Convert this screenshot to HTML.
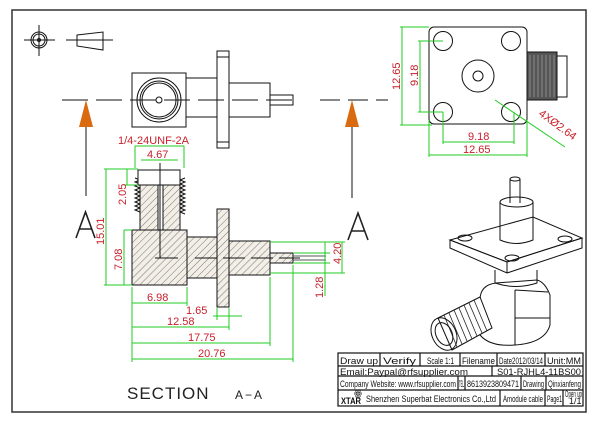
<!DOCTYPE html>
<html><head><meta charset="utf-8"><style>
html,body{margin:0;padding:0;background:#fff;width:600px;height:423px;overflow:hidden}
svg{display:block}
.k{stroke:#111;fill:none;stroke-width:1}
.g{stroke:#22cc22;fill:none;stroke-width:1}
.r{fill:#c8202a;font-family:"Liberation Sans Narrow","Liberation Sans",sans-serif;font-size:11px}
.t{fill:#111;font-family:"Liberation Sans Narrow","Liberation Sans",sans-serif;font-size:9px}
.h{fill:url(#hat);stroke:#111;stroke-width:1}
</style></head><body>
<svg width="600" height="423" viewBox="0 0 600 423" xmlns="http://www.w3.org/2000/svg">
<defs>
<pattern id="hat" patternUnits="userSpaceOnUse" width="5" height="5" patternTransform="rotate(45)">
<rect width="5" height="5" fill="#f3efe6"/><line x1="0" y1="0" x2="0" y2="5" stroke="#777" stroke-width="1"/></pattern>
</defs>
<rect x="0" y="0" width="600" height="423" fill="#fff"/>
<rect x="12" y="10" width="574" height="402" fill="none" stroke="#333" stroke-width="1.5"/>

<!-- symbols -->
<g class="k">
<circle cx="39" cy="40" r="8"/><circle cx="39" cy="40" r="6"/><circle cx="39" cy="40" r="1.5"/>
<line x1="24" y1="40" x2="55" y2="40"/><line x1="39" y1="25" x2="39" y2="56"/>
<path d="M77 35 L103 32 L103 50 L77 46 Z"/><line x1="66" y1="40" x2="113" y2="40"/>
</g>

<!-- top side view -->
<g class="k">
<rect x="132" y="73" width="54" height="54"/>
<circle cx="159" cy="100" r="22"/><circle cx="159" cy="100" r="19"/><circle cx="159" cy="100" r="17"/><circle cx="159" cy="100" r="3"/>
<rect x="186" y="78" width="31" height="39"/>
<rect x="217" y="51" width="12" height="97"/><line x1="217" y1="57" x2="229" y2="57"/><line x1="217" y1="142" x2="229" y2="142"/>
<rect x="229" y="83" width="41" height="34"/>
<rect x="270" y="95" width="23" height="10"/>
<line x1="62" y1="100" x2="300" y2="100" stroke-dasharray="26,8"/>
<line x1="320" y1="100" x2="388" y2="100" stroke-dasharray="20,8"/>
<line x1="86" y1="127" x2="86" y2="196"/>
<line x1="352" y1="127" x2="352" y2="198"/>
</g>
<polygon points="86,100 79,127 93,127" fill="#d96a10"/>
<polygon points="352,100 345,127 359,127" fill="#d96a10"/>
<path d="M76 238 L85.5 212 L95 238 M79.5 229 L91.5 229" stroke="#222" stroke-width="1.6" fill="none"/>
<path d="M348 240 L358 213 L368 240 M351.5 231 L364.5 231" stroke="#222" stroke-width="1.6" fill="none"/>

<!-- section view -->
<g>
<path class="k" d="M135 178 l5 2 l-5 2 l5 2 l-5 2 l5 2 l-5 2 l5 2 l-5 2 l5 2 l-5 2 l5 2 l-5 2 l5 2 l-5 2 l5 2 l-5 2 l5 2"/>
<path class="k" d="M185 178 l-5 2 l5 2 l-5 2 l5 2 l-5 2 l5 2 l-5 2 l5 2 l-5 2 l5 2 l-5 2 l5 2 l-5 2 l5 2 l-5 2 l5 2 l-5 2 l5 2"/>
<rect class="h" x="140" y="185" width="40" height="45"/>
<rect x="158" y="185" width="5" height="45" fill="#fff" stroke="#111"/>
<rect x="138" y="170" width="42" height="15" fill="#fff" stroke="#111"/>
<rect class="h" x="132" y="230" width="55" height="55"/>
<rect class="h" x="187" y="237" width="30" height="41"/>
<rect class="h" x="217" y="209" width="12" height="98"/>
<rect class="h" x="229" y="241" width="41" height="34"/>
<rect class="h" x="270" y="253" width="23" height="10"/>
<g class="k"><line x1="160" y1="163" x2="160" y2="258"/><line x1="155" y1="258" x2="178" y2="258"/>
<line x1="195" y1="258" x2="300" y2="258" stroke-dasharray="22,6"/></g>
<line x1="293" y1="256" x2="326" y2="256" stroke="#555"/><line x1="293" y1="260" x2="326" y2="260" stroke="#555"/>
</g>

<!-- section dims -->
<g class="g">
<line x1="135" y1="168" x2="135" y2="146"/><line x1="184" y1="168" x2="184" y2="146"/><line x1="135" y1="146" x2="184" y2="146"/>
<line x1="141" y1="160" x2="178" y2="160"/>
<line x1="104" y1="169" x2="138" y2="169"/><line x1="104" y1="285" x2="132" y2="285"/>
<line x1="106" y1="169" x2="106" y2="285"/>
<line x1="127" y1="169" x2="127" y2="185"/><line x1="124" y1="185" x2="138" y2="185"/>
<line x1="124" y1="230" x2="132" y2="230"/><line x1="124" y1="230" x2="124" y2="285"/>
<line x1="132" y1="287" x2="132" y2="362"/><line x1="187" y1="287" x2="187" y2="306"/>
<line x1="132" y1="303" x2="187" y2="303"/>
<line x1="217" y1="308" x2="217" y2="320"/><line x1="229" y1="308" x2="229" y2="330"/>
<line x1="213" y1="316" x2="242" y2="316"/>
<line x1="132" y1="327" x2="229" y2="327"/>
<line x1="270" y1="277" x2="270" y2="346"/><line x1="132" y1="343" x2="270" y2="343"/>
<line x1="293" y1="265" x2="293" y2="362"/><line x1="132" y1="359" x2="293" y2="359"/>
<line x1="270" y1="242" x2="345" y2="242"/><line x1="270" y1="273" x2="345" y2="273"/>
<line x1="325" y1="242" x2="325" y2="296"/><line x1="342" y1="242" x2="342" y2="273"/>
<line x1="293" y1="253" x2="330" y2="253"/><line x1="293" y1="263" x2="330" y2="263"/>
</g>
<text class="r" x="118" y="144">1/4-24UNF-2A</text>
<text class="r" x="147" y="158">4.67</text>
<text class="r" transform="translate(126,205) rotate(-90)">2.05</text>
<text class="r" transform="translate(104,245) rotate(-90)">15.01</text>
<text class="r" transform="translate(122,270) rotate(-90)">7.08</text>
<text class="r" transform="translate(341,264) rotate(-90)">4.20</text>
<text class="r" transform="translate(323,298) rotate(-90)">1.28</text>
<text class="r" x="147" y="301">6.98</text>
<text class="r" x="186" y="314">1.65</text>
<text class="r" x="167" y="325">12.58</text>
<text class="r" x="188" y="341">17.75</text>
<text class="r" x="198" y="357">20.76</text>
<text x="127" y="399" font-family="Liberation Sans,sans-serif" font-size="17" fill="#222" letter-spacing="1">SECTION</text>
<text x="235" y="399" font-family="Liberation Sans,sans-serif" font-size="12" fill="#222" letter-spacing="2">A−A</text>

<!-- right top view -->
<g class="k">
<rect x="429" y="27" width="98" height="97" rx="5"/>
<circle cx="443" cy="41" r="9.5"/><circle cx="511" cy="41" r="9.5"/><circle cx="443" cy="112" r="9.5"/><circle cx="511" cy="112" r="9.5"/>
<circle cx="478" cy="76" r="16"/><circle cx="478" cy="76" r="5"/>
<rect x="527" y="52" width="30" height="48" fill="#555" stroke="#111"/>
<rect x="557" y="56" width="10" height="41"/>
</g>
<g stroke="#999" stroke-width="0.8">
<line x1="530" y1="55" x2="530" y2="97"/><line x1="534" y1="55" x2="534" y2="97"/><line x1="538" y1="55" x2="538" y2="97"/><line x1="542" y1="55" x2="542" y2="97"/><line x1="546" y1="55" x2="546" y2="97"/><line x1="550" y1="55" x2="550" y2="97"/><line x1="554" y1="55" x2="554" y2="97"/>
</g>
<g class="g">
<line x1="400" y1="27" x2="429" y2="27"/><line x1="400" y1="125" x2="432" y2="125"/><line x1="402" y1="27" x2="402" y2="125"/>
<line x1="418" y1="41" x2="443" y2="41"/><line x1="418" y1="112" x2="443" y2="112"/><line x1="420" y1="41" x2="420" y2="112"/>
<line x1="443" y1="112" x2="443" y2="144"/><line x1="514" y1="112" x2="514" y2="144"/><line x1="443" y1="142" x2="514" y2="142"/>
<line x1="429" y1="120" x2="429" y2="157"/><line x1="527" y1="120" x2="527" y2="157"/><line x1="429" y1="155" x2="527" y2="155"/>
<line x1="495" y1="100" x2="565" y2="147"/>
</g>
<text class="r" transform="translate(400,90) rotate(-90)">12.65</text>
<text class="r" transform="translate(418,86) rotate(-90)">9.18</text>
<text class="r" x="468" y="140">9.18</text>
<text class="r" x="463" y="153">12.65</text>
<text class="r" transform="translate(538,115) rotate(36)">4XØ2.64</text>

<!-- 3D view -->
<g class="k" fill="#fff" stroke-width="1.1">
<!-- elbow body -->
<path d="M496 283 Q480 285 480 300 L480 335 Q490 347 515 345 Q545 343 550 325 L550 295 Q545 282 537 280 Z"/>
<path d="M515 290 L515 345 M515 290 L548 292 M515 318 L550 318"/>
<!-- threaded female -->
<path d="M438 318 L480 297 L492 328 L452 350 Z" fill="#fff"/>
<g stroke="#222" stroke-width="0.8">
<line x1="444" y1="315" x2="457" y2="347"/><line x1="449" y1="313" x2="462" y2="344"/><line x1="454" y1="310" x2="467" y2="341"/><line x1="459" y1="308" x2="472" y2="339"/><line x1="464" y1="305" x2="477" y2="336"/><line x1="469" y1="303" x2="482" y2="333"/><line x1="474" y1="300" x2="487" y2="331"/>
</g>
<ellipse cx="444" cy="334" rx="12" ry="17" transform="rotate(-25 444 334)"/>
<ellipse cx="444" cy="334" rx="8" ry="12" transform="rotate(-25 444 334)"/>
<!-- neck -->
<path d="M495 270 L495 283 Q516 290 537 283 L537 270"/>
<!-- flange plate -->
<path d="M450 240 L450 248 L507 273 L582 248 L582 238 L507 262 Z"/>
<path d="M450 240 L533 217 L582 238 L507 262 Z"/>
<line x1="507" y1="262" x2="507" y2="273"/>
<ellipse cx="465" cy="238" rx="7" ry="3"/><ellipse cx="565" cy="239" rx="7" ry="3"/><ellipse cx="512" cy="258" rx="7" ry="3"/>
<!-- upper cylinder -->
<path d="M500 202 L500 240 Q516 247 533 240 L533 202"/><ellipse cx="516.5" cy="202" rx="16.5" ry="5"/>
<path d="M510 179 L510 203 M520 179 L520 203"/><ellipse cx="515" cy="179" rx="5" ry="2"/>
</g>

<!-- title block -->
<g stroke="#111" stroke-width="1.2" fill="none">
<rect x="338" y="353" width="245" height="53"/>
<line x1="338" y1="366" x2="583" y2="366"/><line x1="338" y1="376" x2="583" y2="376"/><line x1="338" y1="390" x2="583" y2="390"/>
<line x1="380" y1="353" x2="380" y2="366"/><line x1="420" y1="353" x2="420" y2="366"/><line x1="460" y1="353" x2="460" y2="366"/><line x1="497" y1="353" x2="497" y2="366"/><line x1="545" y1="353" x2="545" y2="366"/>
<line x1="492" y1="366" x2="492" y2="376"/>
<line x1="458" y1="376" x2="458" y2="390"/><line x1="465" y1="376" x2="465" y2="390"/><line x1="521" y1="376" x2="521" y2="390"/><line x1="546" y1="376" x2="546" y2="390"/>
<line x1="500" y1="390" x2="500" y2="406"/><line x1="545" y1="390" x2="545" y2="406"/><line x1="563" y1="390" x2="563" y2="406"/>
</g>
<text class="t" x="340" y="364" font-size="10" textLength="38" lengthAdjust="spacingAndGlyphs">Draw up</text>
<text class="t" x="383" y="364" font-size="10" textLength="33" lengthAdjust="spacingAndGlyphs">Verify</text>
<text class="t" x="427" y="364" textLength="27" lengthAdjust="spacingAndGlyphs">Scale 1:1</text>
<text class="t" x="462" y="364" font-size="10" textLength="33" lengthAdjust="spacingAndGlyphs">Filename</text>
<text class="t" x="499" y="364" textLength="44" lengthAdjust="spacingAndGlyphs">Date2012/03/14</text>
<text class="t" x="547" y="364" font-size="10" textLength="34" lengthAdjust="spacingAndGlyphs">Unit:MM</text>
<text class="t" x="340" y="375" font-size="9" textLength="128" lengthAdjust="spacingAndGlyphs">Email:Paypal@rfsupplier.com</text>
<text class="t" x="497" y="375" font-size="10" textLength="84" lengthAdjust="spacingAndGlyphs">S01-RJHL4-11BS00</text>
<text class="t" x="340" y="387" font-size="8" textLength="116" lengthAdjust="spacingAndGlyphs">Company Website:  www.rfsupplier.com</text>
<text class="t" x="459" y="387" font-size="7" textLength="5" lengthAdjust="spacingAndGlyphs">TEL</text>
<text class="t" x="467" y="387" font-size="8" textLength="52" lengthAdjust="spacingAndGlyphs">8613923809471</text>
<text class="t" x="523" y="387" font-size="8" textLength="21" lengthAdjust="spacingAndGlyphs">Drawing</text>
<text class="t" x="548" y="387" font-size="8" textLength="33" lengthAdjust="spacingAndGlyphs">Qinxianfeng</text>
<text class="t" x="341" y="404" font-size="7" font-weight="bold" textLength="20" lengthAdjust="spacingAndGlyphs">XTAR</text>
<text class="t" x="354" y="396" font-size="8">ꙮ</text>
<text class="t" x="366" y="402" font-size="9" textLength="130" lengthAdjust="spacingAndGlyphs">Shenzhen Superbat Electronics Co.,Ltd</text>
<text class="t" x="503" y="402" font-size="8" textLength="40" lengthAdjust="spacingAndGlyphs">Amodule cable</text>
<text class="t" x="547" y="402" font-size="8" textLength="15" lengthAdjust="spacingAndGlyphs">Page1</text>
<text class="t" x="565" y="397" font-size="6" textLength="17" lengthAdjust="spacingAndGlyphs">Open up</text>
<text class="t" x="569" y="404" font-size="6">1/1</text>
</svg>
</body></html>
